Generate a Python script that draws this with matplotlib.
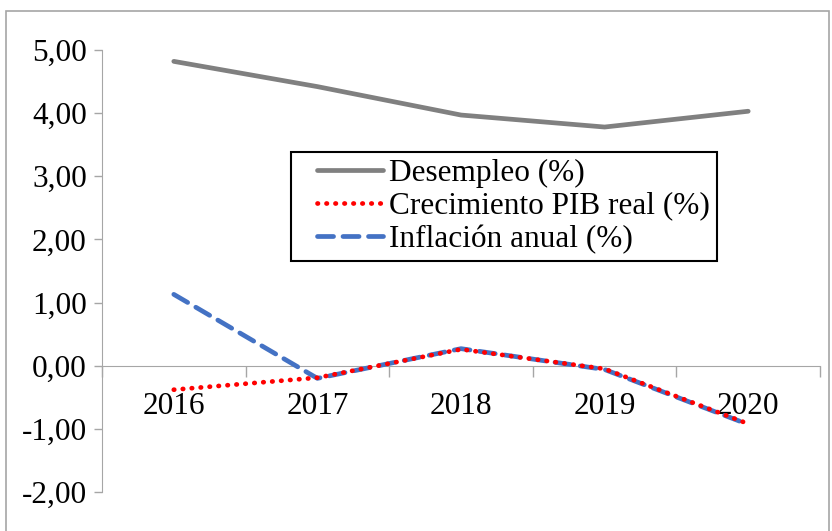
import matplotlib
matplotlib.use("Agg")
import matplotlib.pyplot as plt
from matplotlib.patches import Rectangle
from matplotlib.ticker import FuncFormatter, FixedLocator
from matplotlib.legend_handler import HandlerLine2D
import numpy as np

years = ["2016", "2017", "2018", "2019", "2020"]
desempleo = [4.82, 4.42, 3.97, 3.78, 4.03]
crecimiento_pib = [-0.38, -0.19, 0.26, -0.05, -0.92]
inflacion = [1.13, -0.20, 0.27, -0.06, -0.93]
y_ticks = [-2, -1, 0, 1, 2, 3, 4, 5]

plt.rcParams['font.family'] = ['Liberation Serif', 'DejaVu Serif']

W, H = 832, 531
FS = 22.5
fig = plt.figure(figsize=(W / 100, H / 100), dpi=100)
fig.patches.append(Rectangle((6 / W, -0.05), (829 - 6) / W, (H - 11) / H + 0.05,
                             transform=fig.transFigure, fill=False,
                             edgecolor='#a6a6a6', linewidth=1.2))

ax = fig.add_axes([102 / W, 39 / H, (820 - 102) / W, (492 - 50) / H])
x = list(range(len(years)))

ax.plot(x, desempleo, color='#808080', lw=3.4, solid_capstyle='round',
        label='Desempleo (%)', zorder=3)
ax.plot(x, inflacion, color='#4472C4', lw=3.4, linestyle=(0, (3.4, 2.0)),
        dash_capstyle='round', label='Inflación anual (%)', zorder=3)
ax.plot(x, crecimiento_pib, color='#FF0000', lw=3.4, linestyle=(0, (0.1, 1.8)),
        dash_capstyle='round', label='Crecimiento PIB real (%)', zorder=4)

ax.set_xlim(-0.5, len(years) - 0.5)
ax.set_ylim(-2, 5)

for s in ['top', 'right']:
    ax.spines[s].set_visible(False)
ax.spines['left'].set_color('#a6a6a6')
ax.spines['bottom'].set_color('#a6a6a6')
ax.spines['bottom'].set_position(('data', 0))

ax.yaxis.set_major_locator(FixedLocator(y_ticks))
ax.yaxis.set_major_formatter(FuncFormatter(lambda v, p: f"{v:.2f}".replace('.', ',')))
ax.tick_params(axis='y', direction='out', length=6, width=1.0, color='#a6a6a6',
               labelsize=FS, pad=5)

ax.xaxis.set_major_locator(FixedLocator([i - 0.5 for i in range(len(years) + 1)]))
ax.xaxis.set_major_formatter(FuncFormatter(lambda v, p: ""))
ax.xaxis.set_minor_locator(FixedLocator(x))
ax.set_xticklabels(years, minor=True)
ax.tick_params(axis='x', which='major', direction='out', length=8, width=1.0, color='#a6a6a6')
ax.tick_params(axis='x', which='minor', length=0, labelsize=FS, pad=19)


class OffsetHandler(HandlerLine2D):
    def get_xdata(self, legend, xdescent, ydescent, width, height, fontsize):
        off = 19 * 72 / 100  # points
        xd = np.array([-xdescent + off, -xdescent + width])
        return xd, xd


handles, labels = ax.get_legend_handles_labels()
order = [0, 2, 1]
hl = [handles[i] for i in order]
leg = ax.legend(hl, [labels[i] for i in order],
                loc='upper left', bbox_to_anchor=(291 / W, 1 - 152 / H),
                bbox_transform=fig.transFigure, fontsize=FS, frameon=True,
                fancybox=False, edgecolor='black', framealpha=1,
                handlelength=2.72, handletextpad=0.2, labelspacing=0.12,
                borderpad=0.22, borderaxespad=0,
                handler_map={h: OffsetHandler() for h in hl})
leg.get_frame().set_linewidth(1.5)

fig.savefig("out.png", dpi=100)
